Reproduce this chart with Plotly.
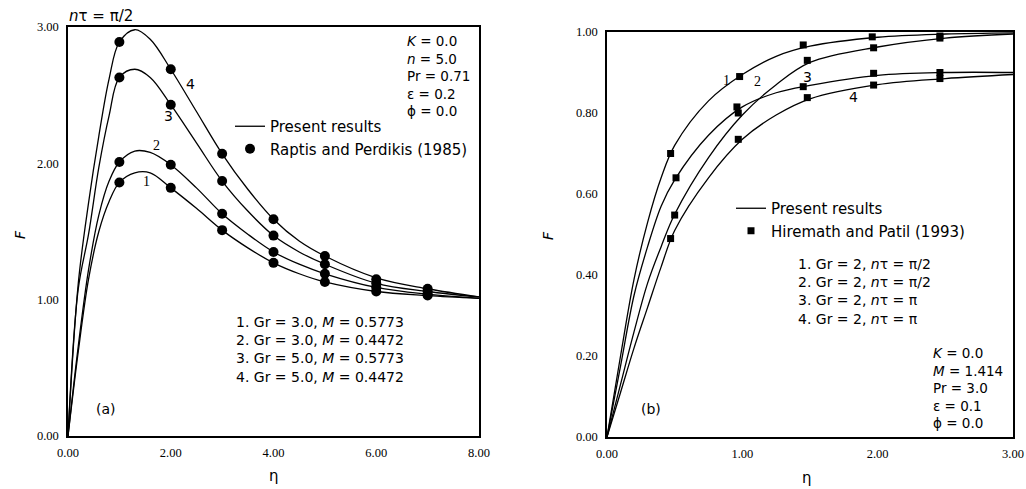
import plotly.graph_objects as go

# ---------------- panel (a): F vs eta, n*tau = pi/2 ----------------
eta_a = [0.0, 0.2, 0.4, 0.6, 0.8, 1.0, 1.3, 1.6, 2.0, 2.5, 3.0, 3.5, 4.0, 4.5, 5.0, 6.0, 7.0, 8.0]
F_a1 = [0.0, 0.62, 1.15, 1.50, 1.72, 1.86, 1.93, 1.93, 1.82, 1.67, 1.51, 1.38, 1.27, 1.19, 1.13, 1.06, 1.03, 1.01]
F_a2 = [0.0, 0.66, 1.22, 1.62, 1.87, 2.01, 2.09, 2.08, 1.99, 1.82, 1.63, 1.48, 1.35, 1.26, 1.19, 1.09, 1.04, 1.01]
F_a3 = [0.0, 1.08, 1.48, 1.97, 2.35, 2.63, 2.69, 2.63, 2.43, 2.15, 1.87, 1.65, 1.47, 1.35, 1.26, 1.12, 1.06, 1.02]
F_a4 = [0.0, 1.12, 1.71, 2.20, 2.62, 2.89, 2.98, 2.91, 2.69, 2.38, 2.07, 1.81, 1.59, 1.43, 1.32, 1.16, 1.08, 1.02]

# Raptis and Perdikis (1985) reference points
eta_a_pts = [1.0, 2.0, 3.0, 4.0, 5.0, 6.0, 7.0]
P_a1 = [1.86, 1.82, 1.51, 1.27, 1.13, 1.06, 1.03]
P_a2 = [2.01, 1.99, 1.63, 1.35, 1.19, 1.09, 1.04]
P_a3 = [2.63, 2.43, 1.87, 1.47, 1.26, 1.12, 1.06]
P_a4 = [2.89, 2.69, 2.07, 1.59, 1.32, 1.15, 1.08]

# ---------------- panel (b): F vs eta ----------------
eta_b = [0.0, 0.1, 0.2, 0.3, 0.4, 0.5, 0.75, 1.0, 1.25, 1.5, 2.0, 2.5, 3.0]
F_b1 = [0.0, 0.20, 0.39, 0.53, 0.64, 0.72, 0.83, 0.895, 0.94, 0.965, 0.987, 0.995, 0.998]
F_b2 = [0.0, 0.13, 0.26, 0.38, 0.47, 0.55, 0.69, 0.795, 0.87, 0.925, 0.963, 0.985, 0.995]
F_b3 = [0.0, 0.175, 0.35, 0.47, 0.57, 0.635, 0.745, 0.815, 0.85, 0.868, 0.893, 0.90, 0.90]
F_b4 = [0.0, 0.11, 0.22, 0.32, 0.42, 0.51, 0.64, 0.735, 0.795, 0.835, 0.87, 0.885, 0.895]

# Hiremath and Patil (1993) reference points
eta_b_pts1 = [0.47, 0.98, 1.45, 1.96, 2.46]
P_b1 = [0.70, 0.89, 0.968, 0.988, 0.99]
eta_b_pts2 = [0.50, 0.97, 1.48, 1.97, 2.46]
P_b2 = [0.548, 0.80, 0.93, 0.961, 0.985]
eta_b_pts3 = [0.51, 0.96, 1.45, 1.97, 2.46]
P_b3 = [0.64, 0.815, 0.865, 0.898, 0.90]
eta_b_pts4 = [0.47, 0.97, 1.48, 1.97, 2.46]
P_b4 = [0.49, 0.735, 0.838, 0.869, 0.885]

ticks_a_x = [0, 2, 4, 6, 8]
ticks_a_y = [0, 1, 2, 3]
ticks_b_x = [0, 1, 2, 3]
ticks_b_y = [0, 0.2, 0.4, 0.6, 0.8, 1.0]

params_a = ["<i>K</i> = 0.0", "<i>n</i> = 5.0", "Pr = 0.71", "ε = 0.2", "ϕ = 0.0"]
cases_a = ["1. Gr = 3.0, <i>M</i> = 0.5773", "2. Gr = 3.0, <i>M</i> = 0.4472",
           "3. Gr = 5.0, <i>M</i> = 0.5773", "4. Gr = 5.0, <i>M</i> = 0.4472"]
params_b = ["<i>K</i> = 0.0", "<i>M</i> = 1.414", "Pr = 3.0", "ε = 0.1", "ϕ = 0.0"]
cases_b = ["1. Gr = 2, <i>n</i>τ = π/2", "2. Gr = 2, <i>n</i>τ = π/2",
           "3. Gr = 2, <i>n</i>τ = π", "4. Gr = 2, <i>n</i>τ = π"]

SANS = "DejaVu Sans"
SERIF = "Liberation Serif"
LINE = dict(color="black", width=1.3)
W, H = 1026, 489

fig = go.Figure()

# panel (a) curves
for i, F in enumerate([F_a1, F_a2, F_a3, F_a4]):
    fig.add_trace(go.Scatter(
        x=eta_a, y=F, mode="lines", line=dict(shape="spline", smoothing=1.0, **LINE),
        name="Present results", showlegend=(i == 0), legend="legend",
        xaxis="x", yaxis="y"))
for i, P in enumerate([P_a1, P_a2, P_a3, P_a4]):
    fig.add_trace(go.Scatter(
        x=eta_a_pts, y=P, mode="markers",
        marker=dict(symbol="circle", size=10, color="black"),
        name="Raptis and Perdikis (1985)", showlegend=(i == 0), legend="legend",
        xaxis="x", yaxis="y"))

# panel (b) curves
for i, F in enumerate([F_b1, F_b2, F_b3, F_b4]):
    fig.add_trace(go.Scatter(
        x=eta_b, y=F, mode="lines", line=dict(shape="spline", smoothing=1.0, **LINE),
        name="Present results", showlegend=(i == 0), legend="legend2",
        xaxis="x2", yaxis="y2"))
for i, (xs, P) in enumerate([(eta_b_pts1, P_b1), (eta_b_pts2, P_b2),
                             (eta_b_pts3, P_b3), (eta_b_pts4, P_b4)]):
    fig.add_trace(go.Scatter(
        x=xs, y=P, mode="markers",
        marker=dict(symbol="square", size=7, color="black"),
        name="Hiremath and Patil (1993)", showlegend=(i == 0), legend="legend2",
        xaxis="x2", yaxis="y2"))


def fmt(v):
    return f"{v:.2f}"


def px(xp, yp):
    """Pixel position on the page -> paper coordinates."""
    return xp / W, 1 - yp / H


axis_common = dict(showline=True, mirror=True, linecolor="black", linewidth=1.5,
                   showgrid=False, zeroline=False, ticks="",
                   tickfont=dict(family=SERIF, size=12.5, color="black"))

fig.update_layout(
    width=W, height=H,
    margin=dict(l=0, r=0, t=0, b=0, autoexpand=False),
    paper_bgcolor="white", plot_bgcolor="white",
    xaxis=dict(domain=[px(68, 0)[0], px(479, 0)[0]], range=[0, 8], tickvals=ticks_a_x,
               ticktext=[fmt(v) for v in ticks_a_x], anchor="y", ticklabelstandoff=4,
               **axis_common),
    yaxis=dict(domain=[px(0, 436)[1], px(0, 27)[1]], range=[0, 3], tickvals=ticks_a_y,
               ticktext=[fmt(v) for v in ticks_a_y], anchor="x", ticklabelstandoff=5,
               **axis_common),
    xaxis2=dict(domain=[px(607, 0)[0], px(1013, 0)[0]], range=[0, 3], tickvals=ticks_b_x,
                ticktext=[fmt(v) for v in ticks_b_x], anchor="y2", ticklabelstandoff=4,
                **axis_common),
    yaxis2=dict(domain=[px(0, 437)[1], px(0, 32)[1]], range=[0, 1], tickvals=ticks_b_y,
                ticktext=[fmt(v) for v in ticks_b_y], anchor="x2", ticklabelstandoff=5,
                **axis_common),
    legend=dict(x=px(230, 0)[0], y=px(0, 110)[1], xanchor="left", yanchor="top",
                bgcolor="rgba(0,0,0,0)", font=dict(family=SANS, size=15, color="black"),
                tracegroupgap=2, itemwidth=30),
    legend2=dict(x=px(731, 0)[0], y=px(0, 192)[1], xanchor="left", yanchor="top",
                 bgcolor="rgba(0,0,0,0)", font=dict(family=SANS, size=15, color="black"),
                 tracegroupgap=0, itemwidth=30),
)

ann = []


def text(x, y, s, xref="paper", yref="paper", size=14, family=SANS, xanchor="left",
         yanchor="middle", angle=0):
    ann.append(dict(x=x, y=y, xref=xref, yref=yref, text=s, showarrow=False,
                    font=dict(family=family, size=size, color="black"),
                    xanchor=xanchor, yanchor=yanchor, align="left", textangle=angle))


# panel (a) texts
text(*px(67, 16), "<i>n</i>τ = π/2", size=15)
text(*px(405, 31), "<br>".join(params_a), size=13.5, yanchor="top")
text(*px(234, 312), "<br>".join(cases_a), size=14, yanchor="top")
text(*px(94, 409), "(a)", size=14)
text(*px(20, 235), "<i>F</i>", size=14, xanchor="center", angle=-90)
text(*px(274, 476), "η", size=15, xanchor="center")

# curve numbers, panel (a)
labels_a = [("1", 1.52, 1.87, SERIF), ("2", 1.72, 2.13, SERIF),
            ("3", 1.95, 2.35, SANS), ("4", 2.38, 2.58, SANS)]
for s, x, y, fam in labels_a:
    text(x, y, s, xref="x", yref="y", size=14, family=fam, xanchor="center")

# panel (b) texts
text(*px(796, 254), "<br>".join(cases_b), size=14, yanchor="top")
text(*px(931, 343), "<br>".join(params_b), size=13.5, yanchor="top")
text(*px(639, 409), "(b)", size=14)
text(*px(548, 236), "<i>F</i>", size=14, xanchor="center", angle=-90)
text(*px(807, 478), "η", size=15, xanchor="center")

labels_b = [("1", 0.88, 0.88, SERIF), ("2", 1.11, 0.877, SERIF),
            ("3", 1.48, 0.889, SANS), ("4", 1.82, 0.84, SANS)]
for s, x, y, fam in labels_b:
    text(x, y, s, xref="x2", yref="y2", size=14, family=fam, xanchor="center")

fig.update_layout(annotations=ann)
fig.write_html("out.html")
